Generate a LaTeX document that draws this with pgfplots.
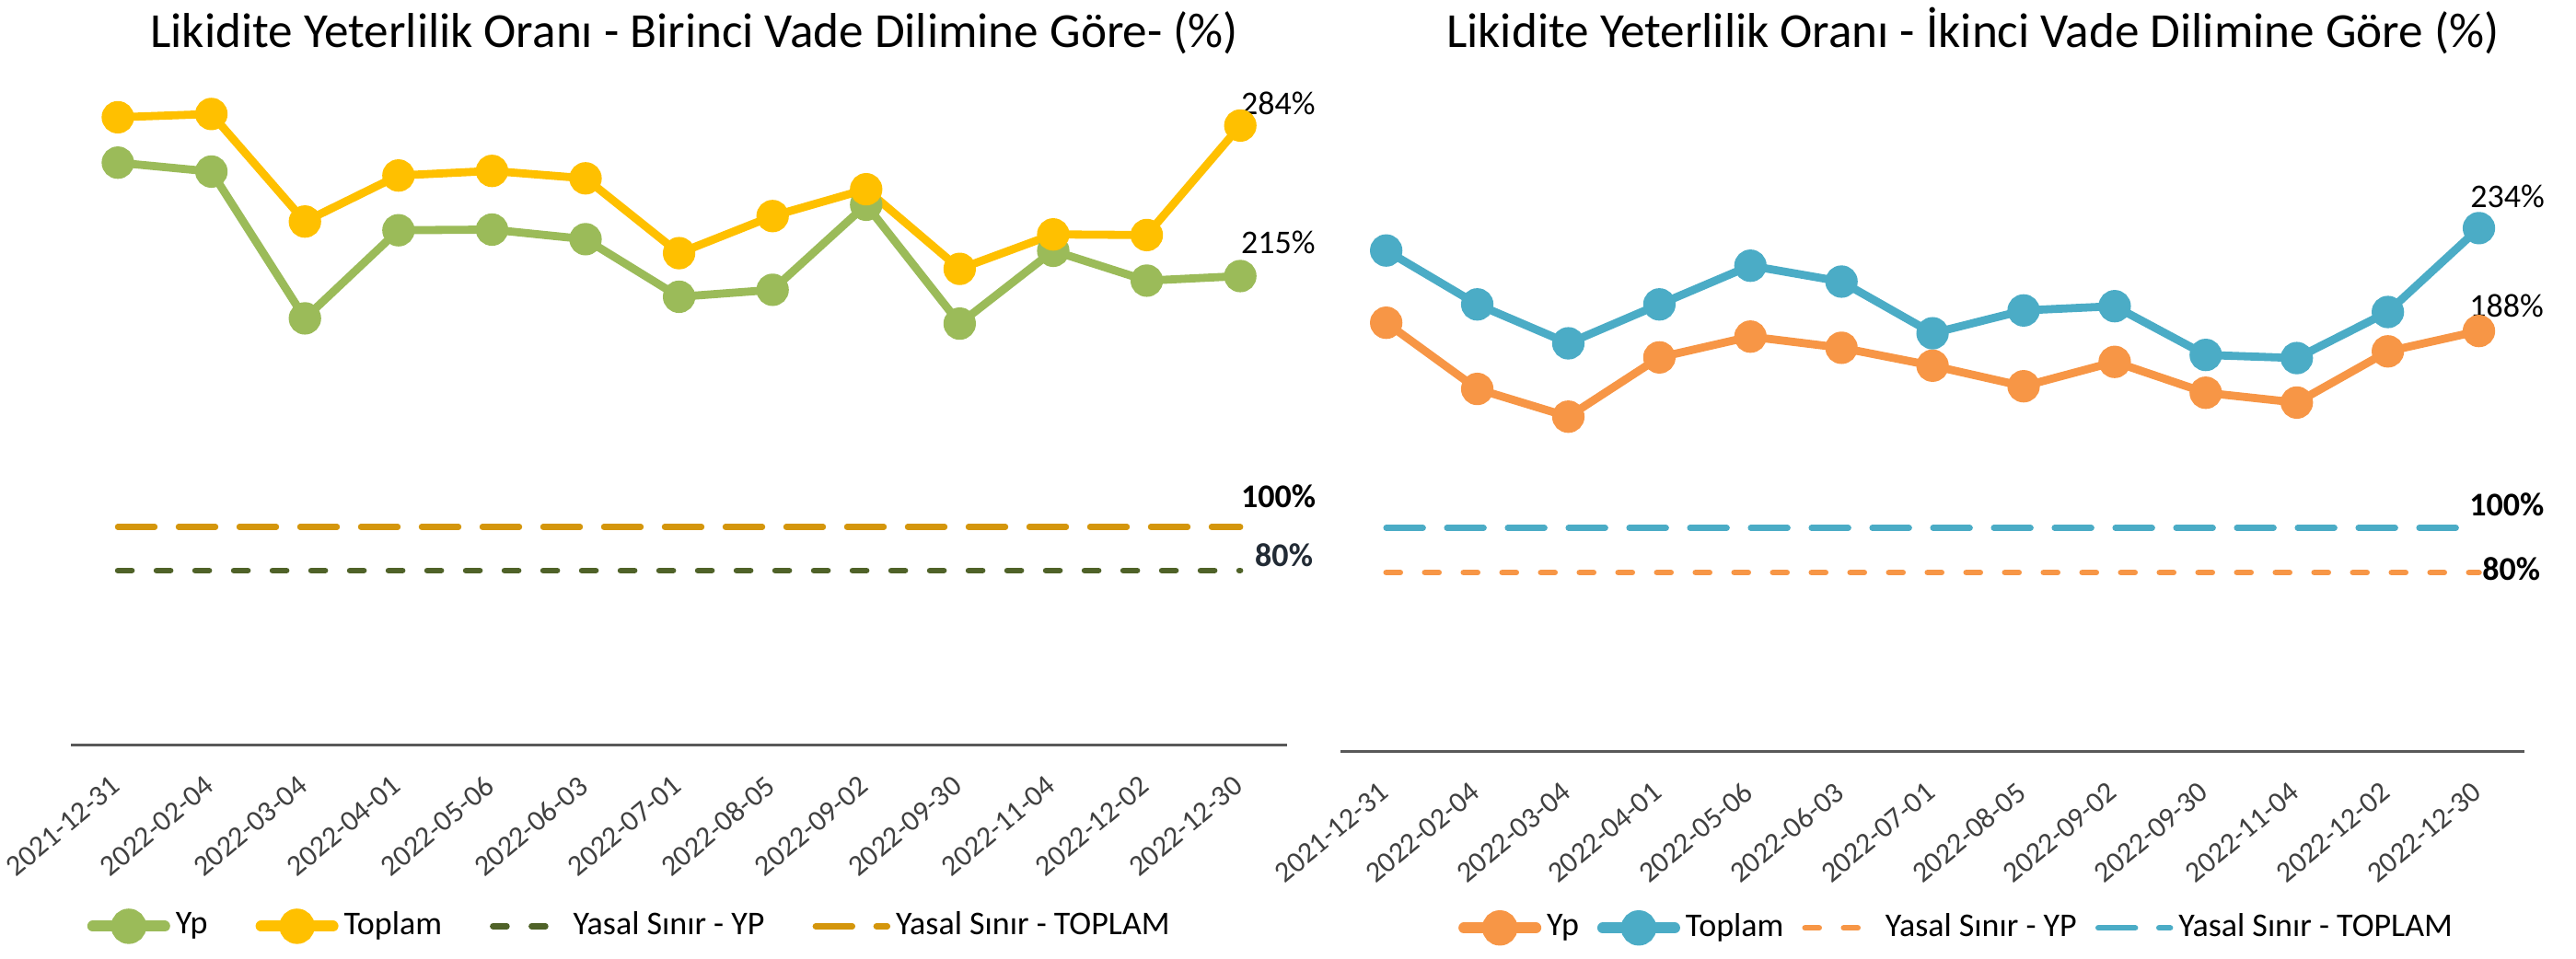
\documentclass[border=0pt]{standalone}
\usepackage{fontspec}
\setmainfont{Carlito}
\usepackage{pgfplots}
\pgfplotsset{compat=1.18}
\definecolor{cgreen}{HTML}{9BBB59}
\definecolor{cgold}{HTML}{FFC000}
\definecolor{colive}{HTML}{4F6228}
\definecolor{cdgold}{HTML}{D4960C}
\definecolor{corange}{HTML}{F79646}
\definecolor{cblue}{HTML}{4BACC6}
\definecolor{axgray}{HTML}{595959}
\definecolor{tickgray}{HTML}{404040}
\definecolor{navy}{HTML}{222B35}
\pgfplotsset{
  base/.style={
    scale only axis, clip=false,
    xmin=-0.5, xmax=12.5, ymin=0, ymax=300,
    axis y line=none, axis x line=bottom,
    x axis line style={-, draw=axgray, line width=0.7pt},
    xtick={0,...,12},
    xticklabels={2021-12-31,2022-02-04,2022-03-04,2022-04-01,2022-05-06,2022-06-03,2022-07-01,2022-08-05,2022-09-02,2022-09-30,2022-11-04,2022-12-02,2022-12-30},
    major tick length=0pt,
    ytick=\empty,
    xticklabel style={font=\fontsize{8}{9}\selectfont, text=tickgray, anchor=east, inner sep=0pt, xshift=-0.4pt, yshift=-9.9pt, rotate=40},
    legend columns=4,
    legend style={draw=none, fill=none, font=\fontsize{9}{11}\selectfont, inner sep=0pt, nodes={inner sep=1pt}, anchor=center},
    legend image code/.code={\draw[mark repeat=2,mark phase=2,##1] plot coordinates {(0pt,0pt)(9.75pt,0pt)(19.5pt,0pt)};},
  },
  mainln/.style={line width=2.2pt, mark=*, mark size=3.3pt, mark options={solid},
    legend image code/.code={\draw[mark repeat=2,mark phase=2,##1, line width=3pt, line cap=round] plot coordinates {(0pt,0pt)(9.75pt,0pt)(19.5pt,0pt)};}},
  lim80/.style={line width=1.6pt, line cap=round, dash pattern=on 3.8pt off 6.7pt, no marks},
  lim100/.style={line width=1.6pt, line cap=round, dash pattern=on 10pt off 6.5pt, no marks},
}
\begin{document}
\begin{tikzpicture}
\path[use as bounding box] (0,0) rectangle (699.5pt,260.25pt);
\node[font=\fontsize{13.3}{15}\selectfont, anchor=base] at (188.6pt,247.3pt) {Likidite Yeterlilik Oranı - Birinci Vade Dilimine Göre- (\%)};
\node[font=\fontsize{13.3}{15}\selectfont, anchor=base] at (535.75pt,247.3pt) {Likidite Yeterlilik Oranı - İkinci Vade Dilimine Göre (\%)};

\begin{axis}[base, at={(19.3pt,57.875pt)}, anchor=south west, width=330.2pt, height=177.75pt,
  legend style={at={(0.46,-0.277)}, /tikz/every odd column/.append style={column sep=0.5pt}, /tikz/every even column/.append style={column sep=12pt}}]
\addplot[mainln, color=cgreen] coordinates {(0,267.0)(1,262.9)(2,195.6)(3,236.0)(4,236.3)(5,231.9)(6,205.5)(7,208.7)(8,247.7)(9,193.2)(10,226.6)(11,212.9)(12,215)};
\addlegendentry{Yp}
\addplot[mainln, color=cgold] coordinates {(0,287.8)(1,289.3)(2,240.0)(3,261.1)(4,263.2)(5,259.8)(6,225.5)(7,242.5)(8,254.8)(9,218.3)(10,234.1)(11,233.8)(12,284)};
\addlegendentry{Toplam}
\addplot[lim80, color=colive] coordinates {(0,80)(12,80)};
\addlegendentry{Yasal Sınır - YP}
\addplot[lim100, color=cdgold] coordinates {(0,100)(12,100)};
\addlegendentry{Yasal Sınır - TOPLAM}
\node[anchor=west, inner sep=0pt, font=\fontsize{9}{11}\selectfont] at (axis cs:12,294.3) {284\%};
\node[anchor=west, inner sep=0pt, font=\fontsize{9}{11}\selectfont] at (axis cs:12,230.6) {215\%};
\node[anchor=west, inner sep=0pt, font=\bfseries\fontsize{9}{11}\selectfont] at (axis cs:12,113.9) {100\%};
\node[anchor=west, inner sep=0pt, font=\bfseries\fontsize{9}{11}\selectfont, text=navy] at (axis cs:12.15,86.9) {80\%};
\end{axis}

\begin{axis}[base, at={(364.05pt,56.125pt)}, anchor=south west, width=321.45pt, height=182.25pt,
  legend style={at={(0.521,-0.263)}, /tikz/every odd column/.append style={column sep=0.5pt}, /tikz/every even column/.append style={column sep=4pt}}]
\addplot[mainln, color=corange] coordinates {(0,191.7)(1,162.1)(2,149.7)(3,176.2)(4,185.5)(5,180.5)(6,172.5)(7,163.3)(8,174.2)(9,160.4)(10,156.0)(11,178.9)(12,188)};
\addlegendentry{Yp}
\addplot[mainln, color=cblue] coordinates {(0,224.0)(1,199.9)(2,182.5)(3,199.9)(4,217.2)(5,210.1)(6,187.0)(7,197.2)(8,199.1)(9,177.3)(10,175.9)(11,196.5)(12,234)};
\addlegendentry{Toplam}
\addplot[lim80, color=corange] coordinates {(0,80)(12,80)};
\addlegendentry{Yasal Sınır - YP}
\addplot[lim100, color=cblue] coordinates {(0,100)(12,100)};
\addlegendentry{Yasal Sınır - TOPLAM}
\node[anchor=west, inner sep=0pt, font=\fontsize{9}{11}\selectfont] at (axis cs:11.9,248.4) {234\%};
\node[anchor=west, inner sep=0pt, font=\fontsize{9}{11}\selectfont] at (axis cs:11.89,199.4) {188\%};
\node[anchor=west, inner sep=0pt, font=\bfseries\fontsize{9}{11}\selectfont] at (axis cs:11.89,110.5) {100\%};
\node[anchor=west, inner sep=0pt, font=\bfseries\fontsize{9}{11}\selectfont] at (axis cs:12.03,81.7) {80\%};
\end{axis}
\end{tikzpicture}
\end{document}
